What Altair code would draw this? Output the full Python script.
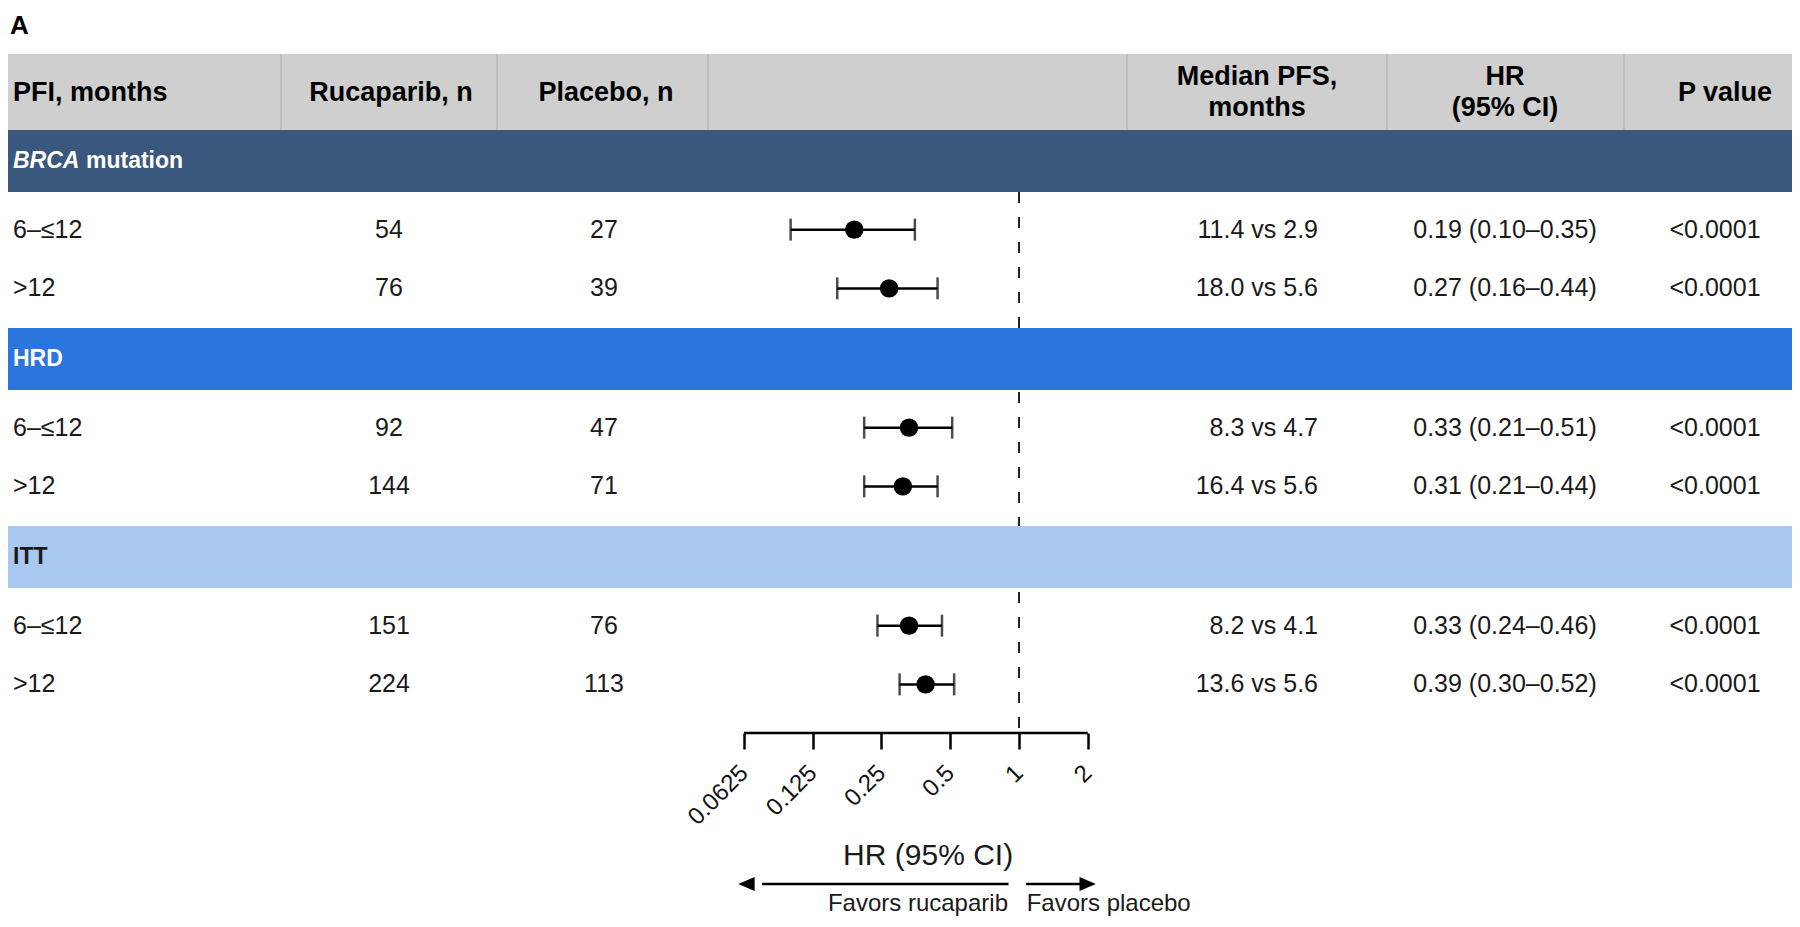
import altair as alt
import pandas as pd

# ------------------------------------------------------------------ data
groups = ["BRCA mutation", "HRD", "ITT"]
pfi_labels = ["6–≤12", ">12"]
rucaparib_n = [54, 76, 92, 144, 151, 224]
placebo_n = [27, 39, 47, 71, 76, 113]
median_rucaparib = [11.4, 18.0, 8.3, 16.4, 8.2, 13.6]
median_placebo = [2.9, 5.6, 4.7, 5.6, 4.1, 5.6]
hr = [0.19, 0.27, 0.33, 0.31, 0.33, 0.39]
ci_low = [0.10, 0.16, 0.21, 0.21, 0.24, 0.30]
ci_high = [0.35, 0.44, 0.51, 0.44, 0.46, 0.52]
p_values = ["<0.0001"] * 6
tick_values = [0.0625, 0.125, 0.25, 0.5, 1, 2]
header_labels = ["PFI, months", "Rucaparib, n", "Placebo, n",
                 "Median PFS,\nmonths", "HR\n(95% CI)", "P value"]

# ------------------------------------------------------------------ layout / style
FONT = "Liberation Sans"
W, PLOT_H, TOTAL_H = 1784, 725, 911
UNIT, Y0 = 66.0, 153.0          # px per row unit, px of first band centre
OCT, X_ONE = 68.75, 1011.0      # px per doubling, px of HR = 1
x_dom = [2 ** (-X_ONE / OCT), 2 ** ((W - X_ONE) / OCT)]
y_dom = [-Y0 / UNIT, (PLOT_H - Y0) / UNIT]
GROUP_STEP = 3.0
ROW_OFFSETS = [1.04, 1.93]
BAND_HALF = 0.47
HEADER_TOP, HEADER_MID = -1.62, -1.05
BAND_COLORS = ["#3a587e", "#2b76dc", "#a9c8f0"]
BAND_TEXT = ["white", "white", "#1a1a1a"]
TXT = "#1a1a1a"
HEAD_FS, BODY_FS, BAND_FS = 27, 25, 23
HEAD_LH = 31
COL_PFI, COL_RUC, COL_PLA, COL_MED, COL_HR, COL_P = 5, 381, 596, 1310, 1497, 1707
HEAD_X = [5, 383, 598, 1249, 1497, 1717]
DIVIDERS = [273, 489, 700, 1119, 1379, 1616]

xscale = alt.Scale(type="log", base=2, domain=x_dom, nice=False)
yscale = alt.Scale(domain=y_dom, reverse=True, nice=False, zero=False)
X_AXIS = alt.Axis(values=tick_values, title=None, domain=False, grid=False,
                  ticks=True, tickSize=16, tickWidth=2.5, tickColor="black",
                  labelAngle=315, labelAlign="right", labelBaseline="middle",
                  labelPadding=20, labelFontSize=24, labelFont=FONT,
                  labelColor="#111111", labelOverlap=False, labelFlush=False,
                  labelExpr="'' + datum.value")


def X(field=None, datum=None):
    if datum is not None:
        return alt.X(datum=datum, type="quantitative", scale=xscale, axis=X_AXIS)
    return alt.X(field, type="quantitative", scale=xscale, axis=X_AXIS)


def Y(field=None, datum=None):
    if datum is not None:
        return alt.Y(datum=datum, type="quantitative", scale=yscale, axis=None)
    return alt.Y(field, type="quantitative", scale=yscale, axis=None)


def one_row(**kw):
    return pd.DataFrame({k: [v] for k, v in kw.items()} or {"a": [0]})


# ------------------------------------------------------------------ tables
rows = []
for gi, g in enumerate(groups):
    for ri, lab in enumerate(pfi_labels):
        i = gi * 2 + ri
        rows.append({
            "y": gi * GROUP_STEP + ROW_OFFSETS[ri],
            "pfi": lab,
            "ruc": str(rucaparib_n[i]),
            "pla": str(placebo_n[i]),
            "med": f"{median_rucaparib[i]:.1f} vs {median_placebo[i]:.1f}",
            "hrci": f"{hr[i]:.2f} ({ci_low[i]:.2f}–{ci_high[i]:.2f})",
            "p": p_values[i],
            "hr": hr[i], "lo": ci_low[i], "hi": ci_high[i],
        })
rows_df = pd.DataFrame(rows)

bands_df = pd.DataFrame({
    "group": groups,
    "y": [gi * GROUP_STEP for gi in range(len(groups))],
})
bands_df["y0"] = bands_df["y"] - BAND_HALF
bands_df["y1"] = bands_df["y"] + BAND_HALF

layers = []

# reference dashed line at HR = 1 (drawn first; bands cover it)
layers.append(alt.Chart(one_row()).mark_rule(
    color="#222222", strokeWidth=2, strokeDash=[11, 14]).encode(
    x=X(datum=1), y=Y(datum=BAND_HALF), y2=alt.Y2(datum=y_dom[1])))

# header band
layers.append(alt.Chart(one_row()).mark_rect(color="#cfcfcf").encode(
    x=alt.value(0), x2=alt.value(W), y=Y(datum=HEADER_TOP), y2=alt.Y2(datum=-BAND_HALF)))
for dx in DIVIDERS:
    layers.append(alt.Chart(one_row()).mark_rule(
        color="#b3b3b3", strokeWidth=1.2).encode(
        x=alt.value(dx), y=Y(datum=HEADER_TOP), y2=alt.Y2(datum=-BAND_HALF)))

# group bands
for gi, g in enumerate(groups):
    layers.append(alt.Chart(bands_df.iloc[[gi]]).mark_rect(color=BAND_COLORS[gi]).encode(
        x=alt.value(0), x2=alt.value(W), y=Y("y0"), y2=alt.Y2("y1")))

# band labels
brca = bands_df.iloc[[0]]
layers.append(alt.Chart(brca).transform_calculate(t="'BRCA'").mark_text(
    font=FONT, fontSize=BAND_FS, fontWeight="bold", fontStyle="italic", align="left",
    baseline="middle", color=BAND_TEXT[0]).encode(
    x=alt.value(COL_PFI), y=Y("y"), text="t:N"))
layers.append(alt.Chart(brca).transform_calculate(t="'mutation'").mark_text(
    font=FONT, fontSize=BAND_FS, fontWeight="bold", align="left",
    baseline="middle", color=BAND_TEXT[0]).encode(
    x=alt.value(COL_PFI + 73), y=Y("y"), text="t:N"))
for gi in (1, 2):
    layers.append(alt.Chart(bands_df.iloc[[gi]]).mark_text(
        font=FONT, fontSize=BAND_FS, fontWeight="bold", align="left",
        baseline="middle", color=BAND_TEXT[gi]).encode(
        x=alt.value(COL_PFI), y=Y("y"), text="group:N"))

# header labels (multi-line ones shifted up by half a line)
for hx, lab in zip(HEAD_X, header_labels):
    n_lines = lab.count("\n") + 1
    layers.append(alt.Chart(one_row(lab=lab)).mark_text(
        font=FONT, fontSize=HEAD_FS, fontWeight="bold", color="black",
        align="left" if hx == HEAD_X[0] else "center", baseline="middle",
        lineBreak="\n", lineHeight=HEAD_LH, dy=-(n_lines - 1) * HEAD_LH / 2 + 1).encode(
        x=alt.value(hx), y=Y(datum=HEADER_MID), text="lab:N"))

# table body text
base = alt.Chart(rows_df)
for col, xpos, align in [("pfi", COL_PFI, "left"), ("ruc", COL_RUC, "center"),
                         ("pla", COL_PLA, "center"), ("med", COL_MED, "right"),
                         ("hrci", COL_HR, "center"), ("p", COL_P, "center")]:
    layers.append(base.mark_text(font=FONT, fontSize=BODY_FS, color=TXT, align=align,
                                 baseline="middle").encode(
        x=alt.value(xpos), y=Y("y"), text=f"{col}:N"))

# forest plot
layers.append(base.mark_rule(color="black", strokeWidth=2.5).encode(
    x=X("lo"), x2=alt.X2("hi"), y=Y("y")))
layers.append(base.mark_tick(color="black", orient="vertical", size=22,
                             thickness=2.5).encode(x=X("lo"), y=Y("y")))
layers.append(base.mark_tick(color="black", orient="vertical", size=22,
                             thickness=2.5).encode(x=X("hi"), y=Y("y")))
layers.append(base.mark_point(shape="circle", filled=True, color="black",
                              opacity=1, size=340).encode(x=X("hr"), y=Y("y")))

# axis line (carries the x axis)
layers.append(alt.Chart(one_row()).mark_rule(
    color="black", strokeWidth=2.5).encode(
    x=X(datum=tick_values[0]), x2=alt.X2(datum=tick_values[-1]),
    y=Y(datum=y_dom[1])))

# axis annotation below
ARROW_Y = 876
layers.append(alt.Chart(one_row(t="HR (95% CI)")).mark_text(
    font=FONT, fontSize=30, color=TXT, align="center", baseline="middle").encode(
    x=X(datum=0.4), y=alt.value(848), text="t:N"))
layers.append(alt.Chart(one_row()).mark_rule(
    color="black", strokeWidth=2.5).encode(
    x=X(datum=0.075), x2=alt.X2(datum=0.9), y=alt.value(ARROW_Y)))
layers.append(alt.Chart(one_row()).mark_rule(
    color="black", strokeWidth=2.5).encode(
    x=X(datum=1.075), x2=alt.X2(datum=1.85), y=alt.value(ARROW_Y)))
layers.append(alt.Chart(one_row()).mark_point(
    shape="M0,0 L2.2,-0.95 L2.2,0.95 Z", filled=True, color="black", opacity=1,
    size=220, strokeWidth=0).encode(x=X(datum=0.059), y=alt.value(ARROW_Y)))
layers.append(alt.Chart(one_row()).mark_point(
    shape="M0,0 L-2.2,-0.95 L-2.2,0.95 Z", filled=True, color="black", opacity=1,
    size=220, strokeWidth=0).encode(x=X(datum=2.17), y=alt.value(ARROW_Y)))
layers.append(alt.Chart(one_row(t="Favors rucaparib")).mark_text(
    font=FONT, fontSize=24, color=TXT, align="right", baseline="middle").encode(
    x=X(datum=0.895), y=alt.value(896), text="t:N"))
layers.append(alt.Chart(one_row(t="Favors placebo")).mark_text(
    font=FONT, fontSize=24, color=TXT, align="left", baseline="middle").encode(
    x=X(datum=1.08), y=alt.value(896), text="t:N"))

# panel letter
layers.append(alt.Chart(one_row(t="A")).mark_text(
    font=FONT, fontSize=26, fontWeight="bold", color="black", align="left",
    baseline="alphabetic").encode(x=alt.value(2), y=alt.value(26), text="t:N"))

chart = alt.layer(*layers).properties(
    width=W, height=PLOT_H, autosize="none",
    padding={"left": 0, "top": 0, "right": 0, "bottom": TOTAL_H - PLOT_H},
    background="white",
).configure_view(stroke=None)

chart.save("out.html", embed_options={"renderer": "svg", "actions": False})
